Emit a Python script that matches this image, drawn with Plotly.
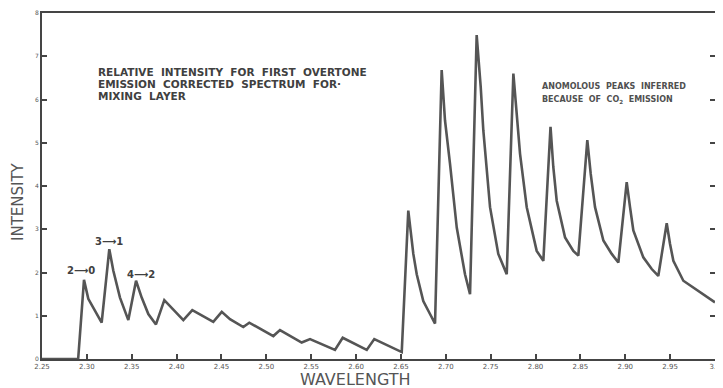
import plotly.graph_objects as go

# Spectrum (wavelength, relative intensity)
wavelength = [2.250, 2.2903, 2.2968, 2.3016, 2.3165, 2.3250, 2.3295, 2.3369, 2.3462, 2.3548,
              2.3611, 2.3685, 2.3770, 2.3863, 2.4075, 2.4175, 2.4409, 2.4503, 2.4595, 2.4743,
              2.4810, 2.5078, 2.5152, 2.5394, 2.5487, 2.5765, 2.5851, 2.6119, 2.6203, 2.6490,
              2.6509, 2.6582, 2.6609, 2.6638, 2.6676, 2.6749, 2.6824, 2.6880,
              2.6954, 2.6991, 2.7047, 2.7122, 2.7214, 2.7270,
              2.7344, 2.7389, 2.7418, 2.7493, 2.7585, 2.7679,
              2.7753, 2.7783, 2.7827, 2.7902, 2.8013, 2.8087,
              2.8167, 2.8198, 2.8236, 2.8329, 2.8421, 2.8477,
              2.8577, 2.8615, 2.8663, 2.8756, 2.8849, 2.8923,
              2.9016, 2.9053, 2.9090, 2.9201, 2.9295, 2.9368,
              2.9462, 2.9499, 2.9536, 2.9647, 2.9833, 3.000]
intensity = [0.00, 0.00, 1.83, 1.39, 0.84, 2.54, 2.04, 1.42, 0.90, 1.81,
             1.42, 1.04, 0.80, 1.36, 0.90, 1.13, 0.86, 1.09, 0.92, 0.74,
             0.84, 0.53, 0.67, 0.38, 0.46, 0.21, 0.49, 0.21, 0.46, 0.17,
             0.16, 3.43, 2.89, 2.43, 1.96, 1.34, 1.04, 0.82,
             6.68, 5.52, 4.51, 3.04, 1.96, 1.50,
             7.49, 6.29, 5.29, 3.51, 2.43, 1.96,
             6.60, 5.91, 4.75, 3.51, 2.50, 2.27,
             5.37, 4.44, 3.66, 2.81, 2.50, 2.39,
             5.06, 4.28, 3.51, 2.74, 2.43, 2.23,
             4.09, 3.51, 2.97, 2.35, 2.08, 1.92,
             3.14, 2.66, 2.27, 1.81, 1.54, 1.31]

x_tick_vals = [2.25, 2.30, 2.35, 2.40, 2.45, 2.50, 2.55, 2.60, 2.65, 2.70, 2.75, 2.80,
               2.85, 2.90, 2.95, 3.00]
x_tick_text = ["2.25", "2.30", "2.35", "2.40", "2.45", "2.50", "2.55", "2.60", "2.65",
               "2.70", "2.75", "2.80", "2.85", "2.90", "2.95", "3.0"]
y_tick_vals = [0, 1, 2, 3, 4, 5, 6, 7, 8]
y_tick_text = ["0", "1", "2", "3", "4", "5", "6", "7", "8"]

INK = "#454545"

# The page body has an 8px margin, so the figure is drawn 8px right/down.
fig = go.Figure()
fig.add_trace(go.Scatter(x=wavelength, y=intensity, mode="lines",
                         line=dict(color="#555555", width=2.6), hoverinfo="skip"))

fig.update_layout(
    width=715, height=380,
    margin=dict(l=34, r=8, t=5, b=29, autoexpand=False),
    paper_bgcolor="white", plot_bgcolor="white",
    showlegend=False,
    font=dict(family="DejaVu Sans", color=INK),
)
fig.update_xaxes(range=[2.25, 3.0], tickvals=x_tick_vals, ticktext=x_tick_text,
                 ticks="inside", ticklen=5, tickwidth=1.5, tickcolor=INK,
                 showline=True, linecolor=INK, linewidth=2, mirror=True,
                 showgrid=False, zeroline=False, automargin=False,
                 tickfont=dict(size=7, family="DejaVu Sans", color="#555555"))
fig.update_yaxes(range=[0, 8], tickvals=y_tick_vals, ticktext=y_tick_text,
                 ticks="inside", ticklen=5, tickwidth=1.5, tickcolor=INK,
                 showline=True, linecolor=INK, linewidth=2, mirror="ticks",
                 showgrid=False, zeroline=False, automargin=False,
                 tickfont=dict(size=6, family="DejaVu Sans", color="#555555"))

def paper_ann(text, px, py, size, color, **kw):
    # px, py: screen pixel positions; plot area spans x 42..715, y 13..359 on screen
    return dict(text=text, xref="paper", yref="paper",
                x=(px - 42) / 673.0, y=(359 - py) / 346.0,
                showarrow=False, font=dict(size=size, color=color), **kw)

anns = [
    paper_ann("WAVELENGTH", 355, 379, 16, "#555555", xanchor="center", yanchor="middle"),
    paper_ann("INTENSITY", 18, 202, 15, "#555555", xanchor="center", yanchor="middle",
              textangle=-90),
    paper_ann("<b>RELATIVE  INTENSITY  FOR  FIRST  OVERTONE</b>", 96, 72, 10.5, "#404040",
              xanchor="left", yanchor="middle"),
    paper_ann("<b>EMISSION  CORRECTED  SPECTRUM  FOR·</b>", 96, 84, 10.5, "#404040",
              xanchor="left", yanchor="middle"),
    paper_ann("<b>MIXING  LAYER</b>", 96, 96, 10.5, "#404040",
              xanchor="left", yanchor="middle"),
    paper_ann("<b>ANOMOLOUS  PEAKS  INFERRED</b>", 540, 86, 8, "#505050",
              xanchor="left", yanchor="middle"),
    paper_ann("<b>BECAUSE  OF  CO<sub>2</sub>  EMISSION</b>", 540, 100, 8, "#505050",
              xanchor="left", yanchor="middle"),
    dict(text="<b>2⟶0</b>", x=2.294, y=2.04, showarrow=False,
         font=dict(size=10, color="#404040")),
    dict(text="<b>3⟶1</b>", x=2.3247, y=2.72, showarrow=False,
         font=dict(size=10, color="#404040")),
    dict(text="<b>4⟶2</b>", x=2.3598, y=1.95, showarrow=False,
         font=dict(size=10, color="#404040")),
]
fig.update_layout(annotations=anns)

fig.write_html("out.html")
